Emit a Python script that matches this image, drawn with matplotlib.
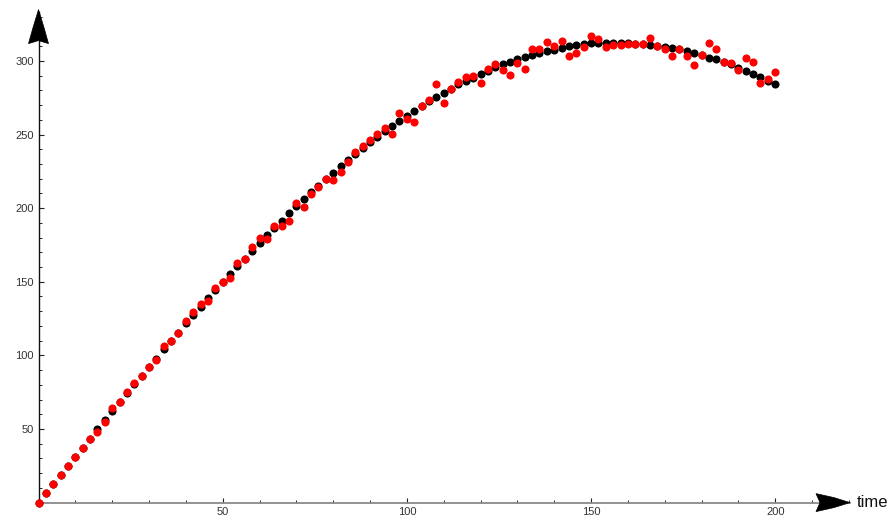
"""Measured vs model points over time, Mathematica-style arrow axes"""

import numpy as np
import matplotlib
matplotlib.use("Agg")
import matplotlib.pyplot as plt
from matplotlib.patches import Polygon
from matplotlib.ticker import MultipleLocator
import matplotlib.transforms as mtransforms

# Data
times = np.arange(0, 201, 2)

model = [
    0, 6.3, 12.4, 18.7, 25, 31, 37.3, 43.2, 49.8, 56.1,
    62.2, 68.1, 74.2, 80.3, 86.2, 92.1, 97.8, 104.1, 109.8, 115.4,
    121.8, 127.6, 133.1, 138.7, 144.6, 149.6, 155.3, 160.7, 165.6, 171.1,
    176.1, 181.5, 186.5, 191.5, 196.5, 201.3, 206, 210.8, 215.2, 219.8,
    224.1, 228.6, 232.7, 236.8, 240.7, 244.8, 248.6, 252.2, 255.8, 259.2,
    262.8, 266, 269.4, 272.6, 275.5, 278.5, 281.2, 284.1, 286.4, 288.6,
    291.1, 293.4, 295.6, 297.6, 299.4, 301.2, 302.8, 304.2, 305.4, 306.6,
    307.7, 308.7, 309.8, 310.6, 311.3, 311.9, 312.1, 312.3, 312.3, 312.1,
    311.9, 311.6, 311.4, 311.1, 310.3, 309.6, 308.8, 307.8, 306.8, 305.3,
    303.8, 302.3, 301, 299.3, 297.6, 295.3, 293.3, 291.2, 288.9, 286.6,
    284.2,
]

measured = [
    0, 6.3, 12.4, 18.7, 25, 31, 37.3, 43.2, 48, 54.7,
    64.3, 68.1, 75.4, 81.5, 86.2, 92.1, 96.7, 106.4, 109.8, 115.4,
    123.6, 129.7, 135.1, 136.7, 145.5, 150, 152.8, 163, 165.5, 173.8,
    180, 178.9, 188, 188.1, 191.3, 203.5, 201, 209.6, 214.6, 219.6,
    219.2, 224.8, 231.1, 238.2, 242.2, 246.3, 250.2, 254.3, 250.6, 264.9,
    260.4, 258.8, 269.2, 273.5, 284.2, 271.7, 280.8, 285.5, 288.9, 289.7,
    284.8, 294.5, 297.6, 293.9, 290.7, 298.8, 294.6, 308, 308.3, 312.9,
    310.2, 313.6, 303.4, 305.2, 309.5, 317, 315.1, 309.3, 310.5, 311,
    311.5, 311.8, 311.7, 315.4, 310, 308.2, 303.6, 308, 303.6, 297.3,
    303.8, 312, 308, 299.5, 298.8, 293.9, 302.2, 299.5, 284.8, 287.8,
    292.7,
]

x_major = [50, 100, 150, 200]
y_major = [50, 100, 150, 200, 250, 300]

plt.rcParams['font.family'] = ['Liberation Sans', 'DejaVu Sans']

fig = plt.figure(figsize=(8.96, 5.19), dpi=100)
ax = fig.add_axes([38.5 / 896, 16.4 / 519, 811.5 / 896, 491.0 / 519])
ax.set_xlim(0, 220.3)
ax.set_ylim(0, 333.5)

# Points: black model first, red measurements on top
ax.scatter(times, model, s=34, color='black', linewidths=0, zorder=3, clip_on=False)
ax.scatter(times, measured, s=34, color='#ff0000', linewidths=0, zorder=4, clip_on=False)

# Axes through the origin
for side in ['top', 'right']:
    ax.spines[side].set_visible(False)
ax.spines['left'].set_color('#111111')
ax.spines['left'].set_linewidth(1.0)
ax.spines['bottom'].set_color('#8a8a8a')
ax.spines['bottom'].set_linewidth(1.3)

ax.set_xticks(x_major)
ax.set_yticks(y_major)
ax.xaxis.set_minor_locator(MultipleLocator(10))
ax.yaxis.set_minor_locator(MultipleLocator(10))
ax.tick_params(which='major', direction='in', length=3.8, width=0.8,
               color='#222222', labelsize=8, labelcolor='#333333', pad=3.5)
ax.tick_params(which='minor', direction='in', length=2.2, width=0.7, color='#222222')

fig.canvas.draw()

# Arrow heads (pixel offsets from the tip)
def arrow_head(tip_xy, verts):
    trans = mtransforms.Affine2D().translate(*tip_xy)
    head = Polygon(verts, closed=True, facecolor='black', edgecolor='black',
                   linewidth=0.5, transform=trans, clip_on=False, zorder=5)
    fig.add_artist(head)

tip_y = ax.transAxes.transform((0, 1))
arrow_head(tip_y, [(0, 2), (-5.5, -16), (-10, -32), (0, -29), (10, -32), (5.5, -16)])
tip_x = ax.transAxes.transform((1, 0))
arrow_head(tip_x, [(0, 0), (-16, 5), (-34, 9), (-30, 0), (-34, -9), (-16, -5)])

fig.text((tip_x[0] + 7) / 896, tip_x[1] / 519, 'time', fontsize=12,
         ha='left', va='center', color='#111111')

fig.savefig('out.png', dpi=100)
